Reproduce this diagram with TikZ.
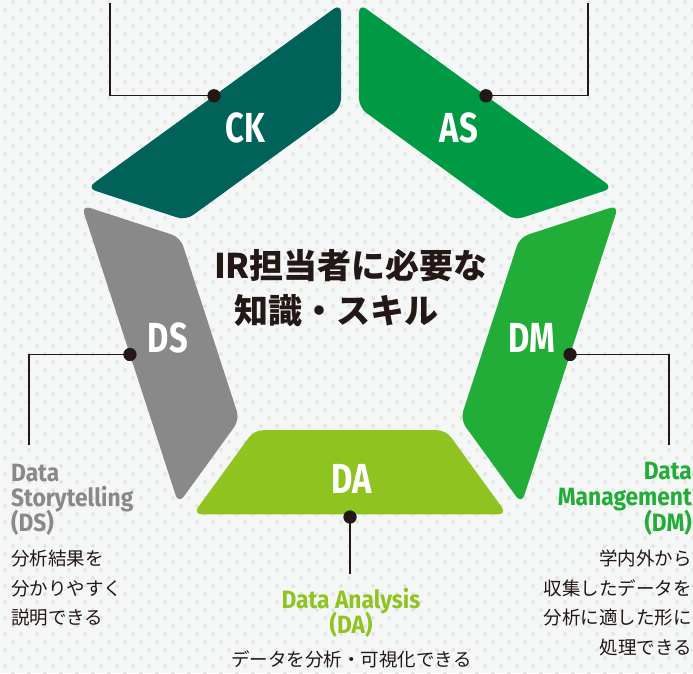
\documentclass[tikz,border=0pt]{standalone}
\usepackage{fontspec}
\usetikzlibrary{calc}
\newfontfamily\jpfont{Noto Sans CJK JP}
\newfontfamily\labfont[FakeStretch=0.78]{Fira Sans}
\newfontfamily\sublabfont[FakeStretch=0.91]{Fira Sans}
\definecolor{bgc}{RGB}{245,246,246}
\definecolor{dotc}{RGB}{228,229,229}
\definecolor{ckc}{RGB}{0,98,89}
\definecolor{asc}{RGB}{0,153,68}
\definecolor{dmc}{RGB}{34,172,56}
\definecolor{dac}{RGB}{143,195,31}
\definecolor{dsc}{RGB}{137,137,137}
\definecolor{ink}{RGB}{35,24,21}
\begin{document}
\begin{tikzpicture}[x=1pt,y=-1pt,
  seg/.style={rounded corners=9pt},
  biglab/.style={text=white, font=\labfont\bfseries\fontsize{42}{42}\selectfont, anchor=base, inner sep=0pt},
  sidelab/.style={font=\sublabfont\bfseries\fontsize{25}{25}\selectfont, inner sep=0pt},
  jptext/.style={font=\jpfont\fontsize{18.5}{18.5}\selectfont, text=ink, inner sep=0pt},
  titletext/.style={font=\jpfont\bfseries\fontsize{34}{34}\selectfont, text=ink, anchor=base, inner sep=0pt},
  conn/.style={draw=ink, line width=1.3pt},
  hubdot/.style={circle, fill=ink, minimum size=13pt, inner sep=0pt}]
\useasboundingbox (0,0) rectangle (693,673);
\fill[bgc] (0,0) rectangle (693,673);
\foreach \k in {0,...,84}{
  \pgfmathtruncatemacro\off{ifthenelse(mod(\k,2)==0,13,5)}
  \fill[dotc] \foreach \m in {0,...,43} { (\off+16*\m, 2+8*\k) circle (2) };
}
% pentagon geometry
\coordinate (C) at (350,283);
\coordinate (O0) at (350,-3);
\coordinate (O1) at (622.0,194.6);
\coordinate (O2) at (518.1,514.4);
\coordinate (O3) at (181.9,514.4);
\coordinate (O4) at (78.0,194.6);
\coordinate (I0) at (350,101);
\coordinate (I1) at (523.1,226.8);
\coordinate (I2) at (457.0,430.2);
\coordinate (I3) at (243.0,430.2);
\coordinate (I4) at (176.9,226.8);
% segments
\fill[asc,seg] ($(O0)!11.1pt!(O1)$) -- ($(O1)!11.1pt!(O0)$) -- ($(I1)!11.1pt!(I0)$) -- ($(I0)!11.1pt!(I1)$) -- cycle;
\fill[dmc,seg] ($(O1)!11.1pt!(O2)$) -- ($(O2)!11.1pt!(O1)$) -- ($(I2)!11.1pt!(I1)$) -- ($(I1)!11.1pt!(I2)$) -- cycle;
\fill[dac,seg] ($(O2)!11.1pt!(O3)$) -- ($(O3)!11.1pt!(O2)$) -- ($(I3)!11.1pt!(I2)$) -- ($(I2)!11.1pt!(I3)$) -- cycle;
\fill[dsc,seg] ($(O3)!11.1pt!(O4)$) -- ($(O4)!11.1pt!(O3)$) -- ($(I4)!11.1pt!(I3)$) -- ($(I3)!11.1pt!(I4)$) -- cycle;
\fill[ckc,seg] ($(O4)!11.1pt!(O0)$) -- ($(O0)!11.1pt!(O4)$) -- ($(I0)!11.1pt!(I4)$) -- ($(I4)!11.1pt!(I0)$) -- cycle;
% segment labels
\node[biglab] (lck) at (245.5,142) {CK};
\node[biglab] (las) at (459,142) {AS};
\node[biglab] (ldm) at (532,352) {DM};
\node[biglab] (lda) at (352,493) {DA};
\node[biglab] (lds) at (168,352) {DS};
% title
\node[titletext] (t1) at (351,278) {IR担当者に必要な};
\node[titletext] (t2) at (336,323) {知識・スキル};
% connector dots and ends
\node[hubdot] (dck) at ($(O4)!0.5!(O0)$) {};
\node[hubdot] (das) at ($(O0)!0.5!(O1)$) {};
\node[hubdot] (ddm) at ($(O1)!0.5!(O2)$) {};
\node[hubdot] (dda) at (350,517) {};
\node[hubdot] (dds) at ($(O3)!0.5!(O4)$) {};
\coordinate (eck) at (110,3);
\coordinate (eas) at (588,3);
\coordinate (edm) at (669,445);
\coordinate (eda) at (350,574);
\coordinate (eds) at (29,445);
\draw[conn] (dck.center) -| (eck);
\draw[conn] (das.center) -| (eas);
\draw[conn] (ddm.center) -| (edm);
\draw[conn] (dda.center) -- (eda);
\draw[conn] (dds.center) -| (eds);
\node[hubdot] at (dck) {};
\node[hubdot] at (das) {};
\node[hubdot] at (ddm) {};
\node[hubdot] at (dda) {};
\node[hubdot] at (dds) {};
% DS texts
\node[sidelab, text=dsc, anchor=base west] (ds1) at (11,481) {Data};
\node[sidelab, text=dsc, anchor=base west] (ds2) at (11,506) {Storytelling};
\node[sidelab, text=dsc, anchor=base west] (ds3) at (11,531) {(DS)};
\node[jptext, anchor=base west] (dsj1) at (11,565) {分析結果を};
\node[jptext, anchor=base west] (dsj2) at (11,595) {分かりやすく};
\node[jptext, anchor=base west] (dsj3) at (11,624) {説明できる};
% DM texts
\node[sidelab, text=dmc, anchor=base east] (dm1) at (692,479) {Data};
\node[sidelab, text=dmc, anchor=base east] (dm2) at (692,505) {Management};
\node[sidelab, text=dmc, anchor=base east] (dm3) at (692,531) {(DM)};
\node[jptext, anchor=base east] (dmj1) at (692,565) {学内外から};
\node[jptext, anchor=base east] (dmj2) at (692,595) {収集したデータを};
\node[jptext, anchor=base east] (dmj3) at (692,624) {分析に適した形に};
\node[jptext, anchor=base east] (dmj4) at (692,654) {処理できる};
% DA texts
\node[sidelab, text=dac, anchor=base] (da1) at (351,608) {Data Analysis};
\node[sidelab, text=dac, anchor=base] (da2) at (351,633) {(DA)};
\node[jptext, anchor=base] (daj) at (351.5,666) {データを分析・可視化できる};
\end{tikzpicture}
\end{document}
